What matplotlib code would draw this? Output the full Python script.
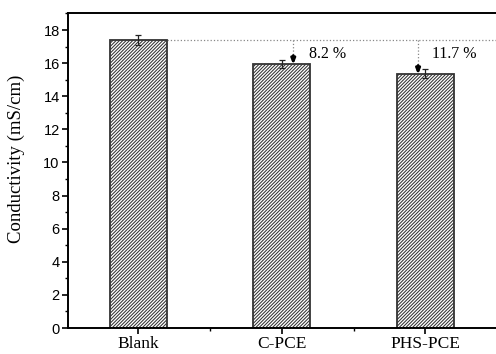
import numpy as np
import matplotlib.pyplot as plt
from matplotlib.ticker import MultipleLocator, FixedLocator

categorias = ['Blank', 'C-PCE', 'PHS-PCE']
conductividad = [17.38, 15.96, 15.36]
errores = [0.30, 0.24, 0.27]
reduccion = ['', '8.2 %', '11.7 %']

plt.rcParams['hatch.linewidth'] = 0.75
plt.rcParams['hatch.color'] = '#333333'

fig = plt.figure(figsize=(4.96, 3.54), dpi=100)
ax = fig.add_axes([68 / 496, 26 / 354, 1 - 68 / 496 + 0.002, (327 - 12) / 354])

x = np.arange(len(categorias))
ax.bar(x, conductividad, width=0.4, color='white', edgecolor='#333333',
       linewidth=1.3, hatch='//////////', zorder=2)
ax.errorbar(x, conductividad, yerr=errores, fmt='none', ecolor='#222222',
            elinewidth=0.9, capsize=2.3, capthick=0.9, zorder=3)

# linea de referencia del blanco y flechas de reduccion
ref = conductividad[0]
ax.plot([0.2, 2.5], [ref, ref], ls=':', color='#888888', lw=0.9, zorder=1)
desplaz = [0, 0.08, -0.05]
for i in (1, 2):
    xi = x[i] + desplaz[i]
    ax.plot([xi, xi], [ref, conductividad[i]], ls=':', color='#888888', lw=0.9, zorder=1)
    ax.annotate('', xy=(xi, conductividad[i] - 0.05), xytext=(xi, conductividad[i] + 0.5),
                arrowprops=dict(arrowstyle='-|>,head_length=0.3,head_width=0.12',
                                color='black', lw=2.0,
                                shrinkA=0, shrinkB=0), zorder=4)
ax.text(x[1] + 0.19, 16.55, reduccion[1], family='Liberation Serif',
        fontsize=11.5, va='center', ha='left')
ax.text(x[2] + 0.05, 16.55, reduccion[2], family='Liberation Serif',
        fontsize=11.5, va='center', ha='left')

ax.set_xlim(-0.49, 2.5)
ax.set_ylim(0, 19.03)
ax.set_xticks(x)
ax.set_xticklabels(categorias, family='Liberation Serif', fontsize=12.5)
ax.xaxis.set_minor_locator(FixedLocator([0.5, 1.5]))
ax.yaxis.set_major_locator(MultipleLocator(2))
ax.yaxis.set_minor_locator(MultipleLocator(1))
for lbl in ax.get_yticklabels():
    lbl.set_family('Liberation Sans')
    lbl.set_fontsize(10.5)
ax.set_ylabel('Conductivity (mS/cm)', family='Liberation Serif', fontsize=13.5)
ax.yaxis.set_label_coords(-0.10, 0.536)

ax.tick_params(which='major', direction='out', length=4, width=1.2, top=False,
               right=False, pad=2)
ax.tick_params(which='minor', direction='out', length=2.5, width=1.0, top=False,
               right=False)
ax.spines['right'].set_visible(False)
for s in ('left', 'bottom', 'top'):
    ax.spines[s].set_linewidth(1.4)

plt.savefig('out.png', dpi=100)
plt.close()
